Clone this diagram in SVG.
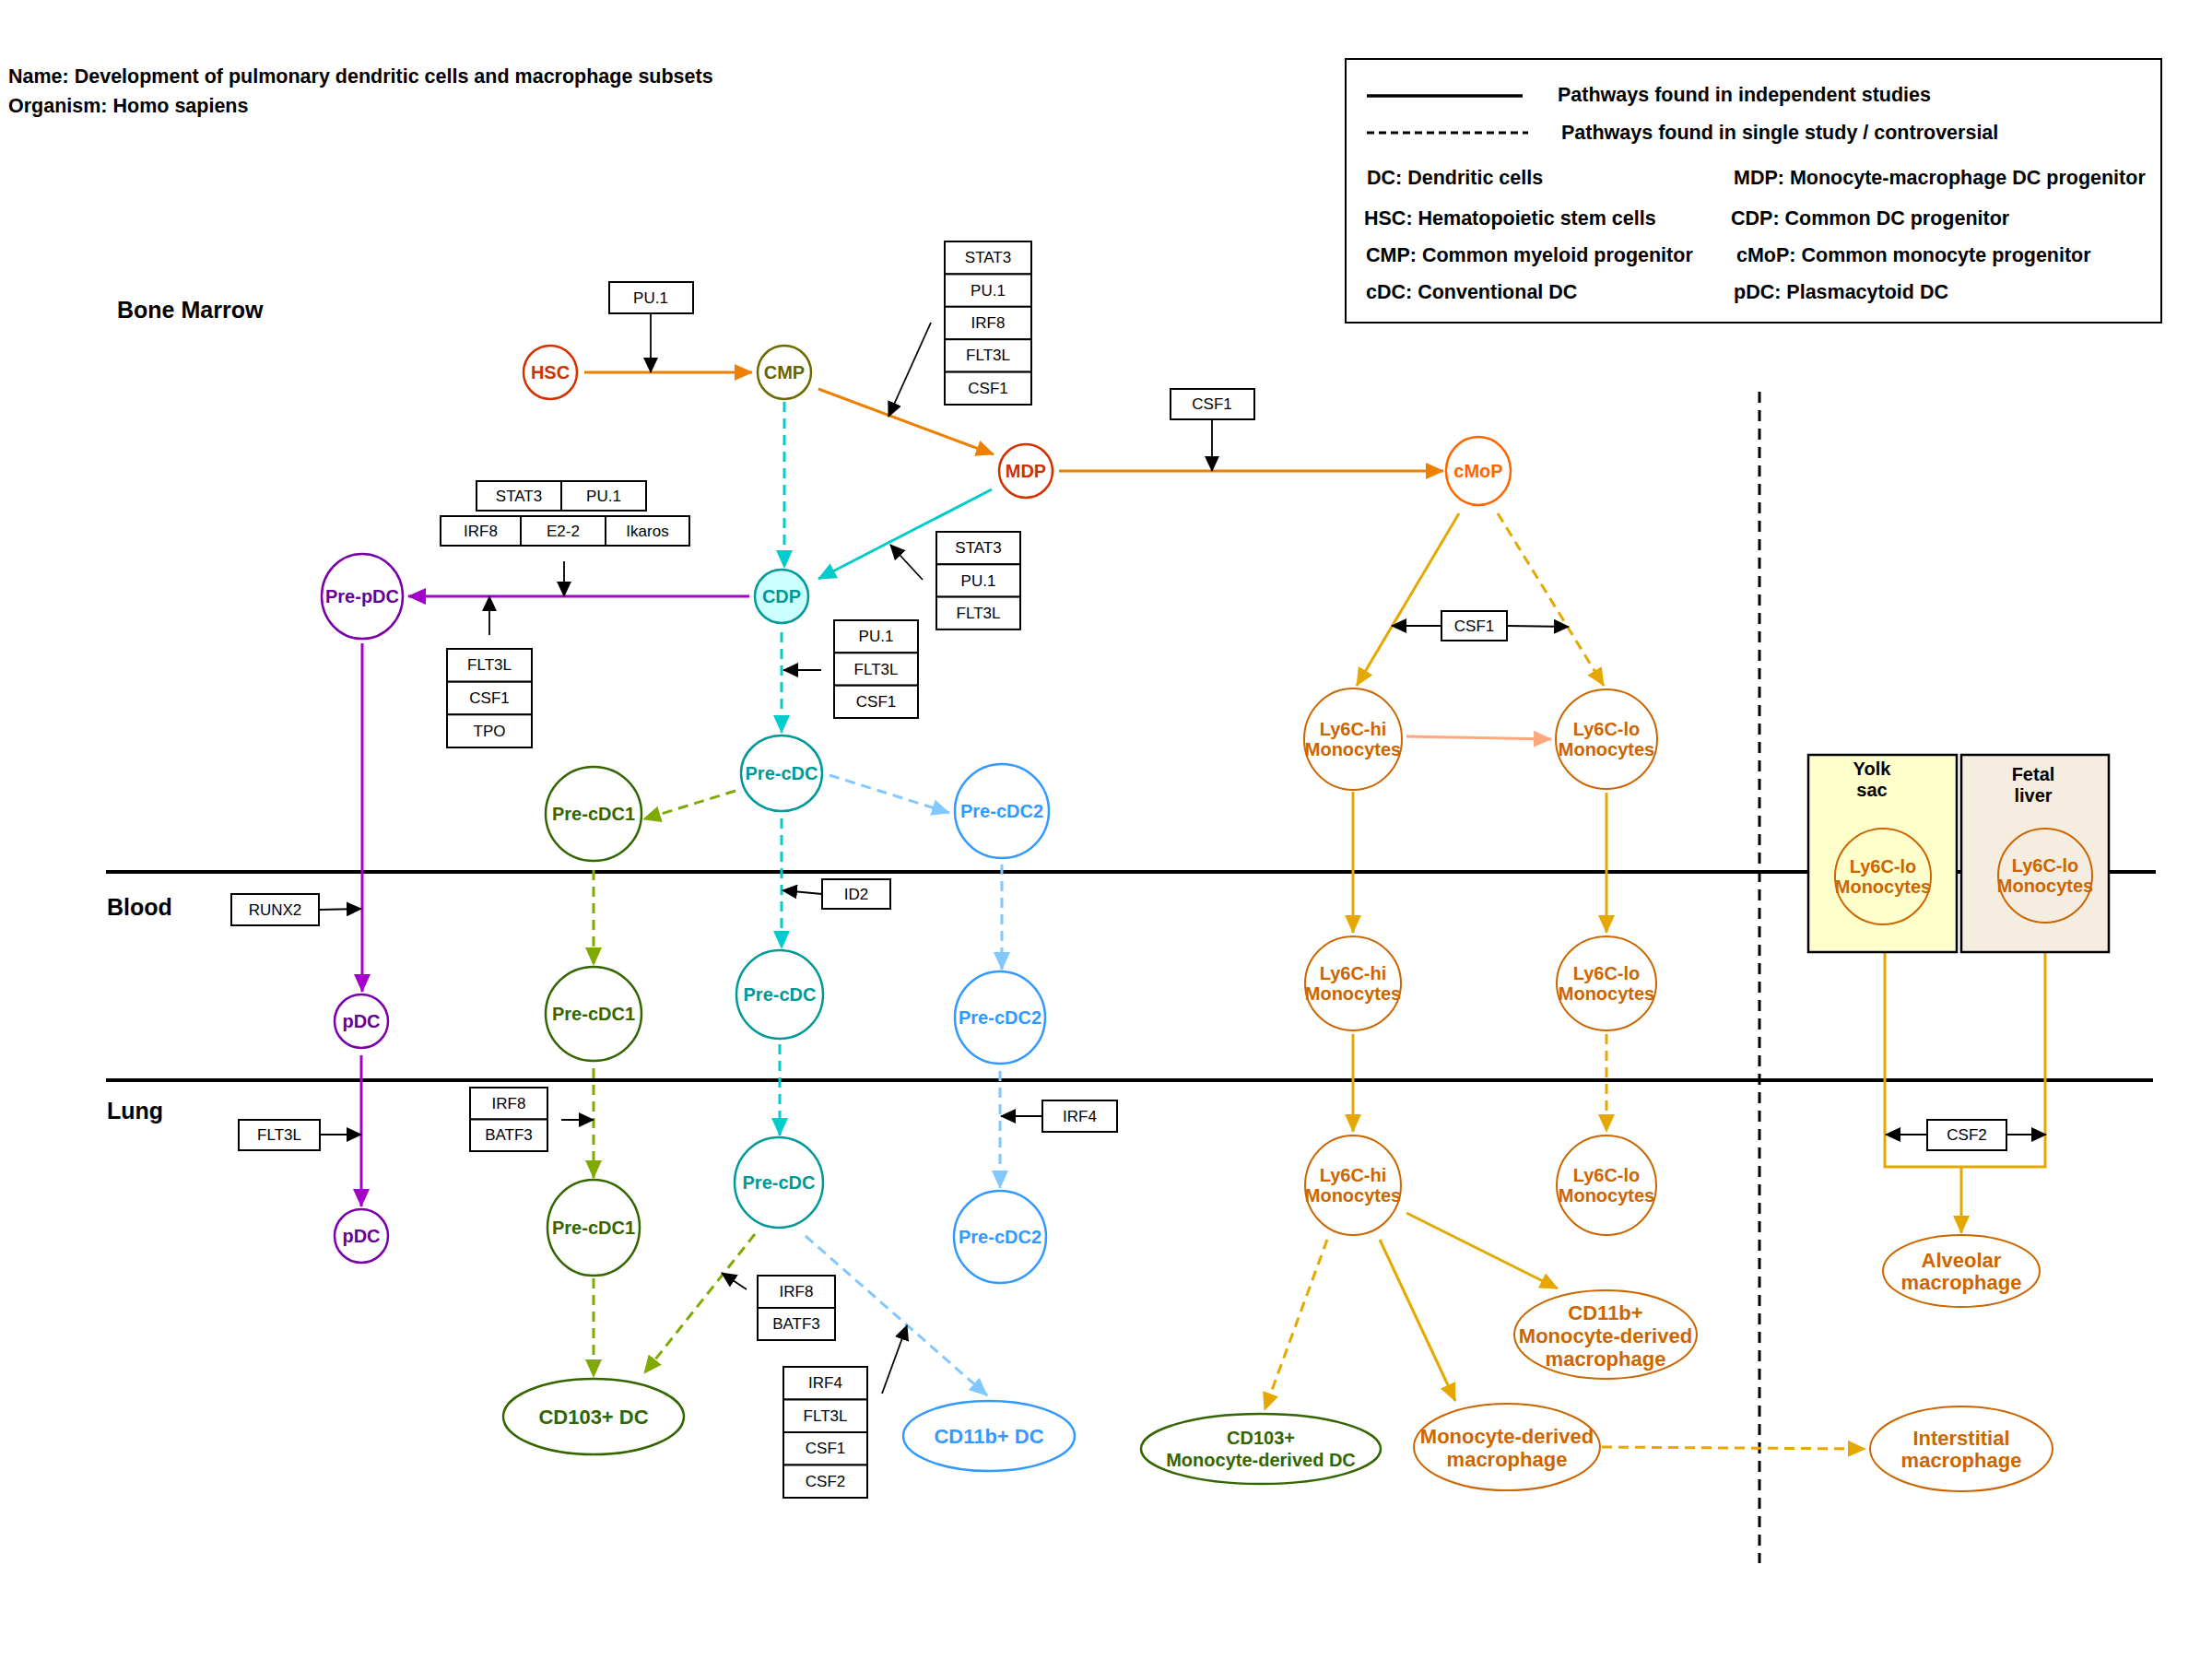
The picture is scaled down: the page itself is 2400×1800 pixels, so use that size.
<svg xmlns="http://www.w3.org/2000/svg" width="2400" height="1800" viewBox="0 0 2400 1800">
  <style>
    text { font-family: "Liberation Sans", Arial, sans-serif; }
    .hdr { font-size: 21.5px; font-weight: bold; fill: #000; }
    .zone { font-size: 25px; font-weight: bold; fill: #000; }
    .leg { font-size: 21.5px; font-weight: bold; fill: #000; }
    .box rect { fill: #fff; stroke: #000; stroke-width: 2; }
    .box text { font-size: 17px; fill: #000; text-anchor: middle; dominant-baseline: central; }
    .node text { font-size: 20px; font-weight: bold; text-anchor: middle; dominant-baseline: central; }
    .node text.big { font-size: 22px; }
    .node ellipse { fill: #fff; stroke-width: 2.5; }
    .red ellipse { stroke: #d43000; } .red text { fill: #cc3300; }
    .olive ellipse { stroke: #6b6b00; } .olive text { fill: #666600; }
    .cyan ellipse { stroke: #009999; fill: #ccffff; } .cyan text { fill: #009999; }
    .teal ellipse { stroke: #009999; } .teal text { fill: #009999; }
    .purple ellipse { stroke: #7a00a8; } .purple text { fill: #660099; }
    .green ellipse { stroke: #336600; } .green text { fill: #336600; }
    .blue ellipse { stroke: #3399ff; } .blue text { fill: #3399ff; }
    .org ellipse { stroke: #ff6600; } .org text { fill: #ff6600; }
    .mono ellipse { stroke: #cc6600; stroke-width: 2; } .mono text { fill: #cc6600; }
    .mono text.site { fill: #000; }
    .c { fill: none; stroke-width: 3; }
    .dash { stroke-dasharray: 11 7; }
    .reg { fill: none; stroke: #000; stroke-width: 1.8; marker-end: url(#ah-black); }
  </style>
  <defs>
    <marker id="ah-orange" markerUnits="userSpaceOnUse" markerWidth="20" markerHeight="18" refX="19" refY="9" orient="auto"><path d="M0,0 L20,9 L0,18 z" fill="#ee8000"/></marker>
    <marker id="ah-cyan" markerUnits="userSpaceOnUse" markerWidth="20" markerHeight="18" refX="19" refY="9" orient="auto"><path d="M0,0 L20,9 L0,18 z" fill="#00cccc"/></marker>
    <marker id="ah-purple" markerUnits="userSpaceOnUse" markerWidth="20" markerHeight="18" refX="19" refY="9" orient="auto"><path d="M0,0 L20,9 L0,18 z" fill="#a400cc"/></marker>
    <marker id="ah-lime" markerUnits="userSpaceOnUse" markerWidth="20" markerHeight="18" refX="19" refY="9" orient="auto"><path d="M0,0 L20,9 L0,18 z" fill="#7faa00"/></marker>
    <marker id="ah-sky" markerUnits="userSpaceOnUse" markerWidth="20" markerHeight="18" refX="19" refY="9" orient="auto"><path d="M0,0 L20,9 L0,18 z" fill="#80c8ff"/></marker>
    <marker id="ah-gold" markerUnits="userSpaceOnUse" markerWidth="20" markerHeight="18" refX="19" refY="9" orient="auto"><path d="M0,0 L20,9 L0,18 z" fill="#e6a800"/></marker>
    <marker id="ah-salmon" markerUnits="userSpaceOnUse" markerWidth="20" markerHeight="18" refX="19" refY="9" orient="auto"><path d="M0,0 L20,9 L0,18 z" fill="#ffa880"/></marker>
    <marker id="ah-black" markerUnits="userSpaceOnUse" markerWidth="17" markerHeight="16" refX="16" refY="8" orient="auto"><path d="M0,0 L17,8 L0,16 z" fill="#000"/></marker>
  </defs>

  <rect x="0" y="0" width="2400" height="1800" fill="#fff"/>

  <!-- heading -->
  <g id="heading">
    <text class="hdr" x="9" y="90">Name: Development of pulmonary dendritic cells and macrophage subsets</text>
    <text class="hdr" x="9" y="122">Organism: Homo sapiens</text>
  </g>

  <!-- legend -->
  <g id="legend">
    <rect x="1460" y="64" width="885" height="286" fill="#fff" stroke="#000" stroke-width="2"/>
    <line x1="1483" y1="104" x2="1652" y2="104" stroke="#000" stroke-width="3.5"/>
    <line x1="1483" y1="144" x2="1658" y2="144" stroke="#000" stroke-width="3" stroke-dasharray="8 5"/>
    <text class="leg" x="1690" y="110">Pathways found in independent studies</text>
    <text class="leg" x="1694" y="151">Pathways found in single study / controversial</text>
    <text class="leg" x="1483" y="200">DC: Dendritic cells</text>
    <text class="leg" x="1881" y="200">MDP: Monocyte-macrophage DC progenitor</text>
    <text class="leg" x="1480" y="244">HSC: Hematopoietic stem cells</text>
    <text class="leg" x="1878" y="244">CDP: Common DC progenitor</text>
    <text class="leg" x="1482" y="284">CMP: Common myeloid progenitor</text>
    <text class="leg" x="1884" y="284">cMoP: Common monocyte progenitor</text>
    <text class="leg" x="1482" y="324">cDC: Conventional DC</text>
    <text class="leg" x="1881" y="324">pDC: Plasmacytoid DC</text>
  </g>

  <!-- compartments -->
  <g id="compartments">
    <text class="zone" x="127" y="345">Bone Marrow</text>
    <text class="zone" x="116" y="993">Blood</text>
    <text class="zone" x="116" y="1214">Lung</text>
    <line x1="115" y1="946" x2="2339" y2="946" stroke="#000" stroke-width="4"/>
    <line x1="115" y1="1172" x2="2336" y2="1172" stroke="#000" stroke-width="4"/>
    <line x1="1909" y1="425" x2="1909" y2="1696" stroke="#000" stroke-width="3" stroke-dasharray="12 8"/>
  </g>

  <!-- connectors -->
  <g id="connectors">
    <!-- progenitor trunk -->
    <line class="c" x1="634" y1="404" x2="816" y2="404" stroke="#ee8000" marker-end="url(#ah-orange)"/>
    <line class="c" x1="888" y1="422" x2="1078" y2="493" stroke="#ee8000" marker-end="url(#ah-orange)"/>
    <line class="c" x1="1149" y1="511" x2="1566" y2="511" stroke="#ee8000" marker-end="url(#ah-orange)"/>
    <line class="c dash" x1="851" y1="436" x2="851" y2="616" stroke="#00cccc" marker-end="url(#ah-cyan)"/>
    <line class="c" x1="1076" y1="531" x2="888" y2="628" stroke="#00cccc" marker-end="url(#ah-cyan)"/>
    <line class="c" x1="813" y1="647" x2="443" y2="647" stroke="#a400cc" stroke-width="3.5" marker-end="url(#ah-purple)"/>
    <line class="c dash" x1="848" y1="686" x2="848" y2="795" stroke="#00cccc" marker-end="url(#ah-cyan)"/>

    <!-- pDC branch -->
    <line class="c" x1="393" y1="698" x2="393" y2="1076" stroke="#a400cc" stroke-width="3.5" marker-end="url(#ah-purple)"/>
    <line class="c" x1="392" y1="1145" x2="392" y2="1309" stroke="#a400cc" stroke-width="3.5" marker-end="url(#ah-purple)"/>

    <!-- cDC branches -->
    <line class="c dash" x1="798" y1="858" x2="698" y2="889" stroke="#7faa00" marker-end="url(#ah-lime)"/>
    <line class="c dash" x1="900" y1="841" x2="1030" y2="882" stroke="#80c8ff" marker-end="url(#ah-sky)"/>
    <line class="c dash" x1="848" y1="888" x2="848" y2="1029" stroke="#00cccc" marker-end="url(#ah-cyan)"/>
    <line class="c dash" x1="644" y1="944" x2="644" y2="1047" stroke="#7faa00" marker-end="url(#ah-lime)"/>
    <line class="c dash" x1="1087" y1="938" x2="1087" y2="1052" stroke="#80c8ff" marker-end="url(#ah-sky)"/>
    <line class="c dash" x1="644" y1="1159" x2="644" y2="1278" stroke="#7faa00" marker-end="url(#ah-lime)"/>
    <line class="c dash" x1="846" y1="1133" x2="846" y2="1232" stroke="#00cccc" marker-end="url(#ah-cyan)"/>
    <line class="c dash" x1="1085" y1="1162" x2="1085" y2="1289" stroke="#80c8ff" marker-end="url(#ah-sky)"/>
    <line class="c dash" x1="644" y1="1387" x2="644" y2="1494" stroke="#7faa00" marker-end="url(#ah-lime)"/>
    <line class="c dash" x1="819" y1="1339" x2="699" y2="1490" stroke="#7faa00" marker-end="url(#ah-lime)"/>
    <line class="c dash" x1="874" y1="1341" x2="1071" y2="1514" stroke="#80c8ff" marker-end="url(#ah-sky)"/>

    <!-- monocyte branches -->
    <line class="c" x1="1583" y1="557" x2="1472" y2="744" stroke="#e6a800" marker-end="url(#ah-gold)"/>
    <line class="c dash" x1="1625" y1="557" x2="1740" y2="744" stroke="#e6a800" marker-end="url(#ah-gold)"/>
    <line class="c" x1="1526" y1="799" x2="1683" y2="802" stroke="#ffa880" marker-end="url(#ah-salmon)"/>
    <line class="c" x1="1468" y1="859" x2="1468" y2="1012" stroke="#e6a800" marker-end="url(#ah-gold)"/>
    <line class="c" x1="1743" y1="860" x2="1743" y2="1012" stroke="#e6a800" marker-end="url(#ah-gold)"/>
    <line class="c" x1="1468" y1="1122" x2="1468" y2="1228" stroke="#e6a800" marker-end="url(#ah-gold)"/>
    <line class="c dash" x1="1743" y1="1122" x2="1743" y2="1228" stroke="#e6a800" marker-end="url(#ah-gold)"/>
    <line class="c" x1="1526" y1="1316" x2="1690" y2="1398" stroke="#e6a800" marker-end="url(#ah-gold)"/>
    <line class="c" x1="1497" y1="1345" x2="1579" y2="1520" stroke="#e6a800" marker-end="url(#ah-gold)"/>
    <line class="c dash" x1="1440" y1="1345" x2="1372" y2="1530" stroke="#e6a800" marker-end="url(#ah-gold)"/>
    <line class="c dash" x1="1738" y1="1570" x2="2024" y2="1572" stroke="#e6a800" marker-end="url(#ah-gold)"/>

    <!-- embryonic macrophage origin -->
    <path class="c" d="M2045,1005 V1266 H2219 V1003" stroke="#e6a800"/>
    <line class="c" x1="2128" y1="1266" x2="2128" y2="1338" stroke="#e6a800" marker-end="url(#ah-gold)"/>

    <!-- regulator arrows -->
    <line class="reg" x1="706" y1="340" x2="706" y2="404"/>
    <line class="reg" x1="1010" y1="350" x2="964" y2="452"/>
    <line class="reg" x1="1315" y1="455" x2="1315" y2="511"/>
    <line class="reg" x1="1001" y1="629" x2="966" y2="591"/>
    <line class="reg" x1="612" y1="609" x2="612" y2="647"/>
    <line class="reg" x1="531" y1="689" x2="531" y2="647"/>
    <line class="reg" x1="891" y1="727" x2="850" y2="727"/>
    <line class="reg" x1="892" y1="970" x2="849" y2="966"/>
    <line class="reg" x1="346" y1="987" x2="392" y2="986"/>
    <line class="reg" x1="347" y1="1231" x2="392" y2="1231"/>
    <line class="reg" x1="609" y1="1215" x2="644" y2="1215"/>
    <line class="reg" x1="1131" y1="1211" x2="1086" y2="1211"/>
    <line class="reg" x1="810" y1="1399" x2="783" y2="1381"/>
    <line class="reg" x1="957" y1="1512" x2="984" y2="1438"/>
    <line class="reg" x1="1564" y1="679" x2="1510" y2="679"/>
    <line class="reg" x1="1635" y1="679" x2="1702" y2="680"/>
    <line class="reg" x1="2091" y1="1231" x2="2046" y2="1231"/>
    <line class="reg" x1="2177" y1="1231" x2="2220" y2="1231"/>
  </g>

  <!-- regulator boxes -->
  <g id="reg-pu1-hsc" class="box">
    <rect x="661" y="306" width="91" height="34"/><text x="706" y="323">PU.1</text>
  </g>
  <g id="reg-cmp-mdp" class="box">
    <rect x="1025" y="262" width="94" height="35.4"/><text x="1072" y="279.7">STAT3</text>
    <rect x="1025" y="297.4" width="94" height="35.4"/><text x="1072" y="315.1">PU.1</text>
    <rect x="1025" y="332.8" width="94" height="35.4"/><text x="1072" y="350.5">IRF8</text>
    <rect x="1025" y="368.2" width="94" height="35.4"/><text x="1072" y="385.9">FLT3L</text>
    <rect x="1025" y="403.6" width="94" height="35.4"/><text x="1072" y="421.3">CSF1</text>
  </g>
  <g id="reg-csf1-cmop" class="box">
    <rect x="1270" y="422" width="91" height="33"/><text x="1315" y="438.5">CSF1</text>
  </g>
  <g id="reg-mdp-cdp" class="box">
    <rect x="1016" y="577" width="91" height="35.3"/><text x="1061.5" y="594.7">STAT3</text>
    <rect x="1016" y="612.3" width="91" height="35.3"/><text x="1061.5" y="630">PU.1</text>
    <rect x="1016" y="647.6" width="91" height="35.3"/><text x="1061.5" y="665.3">FLT3L</text>
  </g>
  <g id="reg-prepdc-tf" class="box">
    <rect x="517" y="522" width="92" height="32"/><text x="563" y="538">STAT3</text>
    <rect x="609" y="522" width="92" height="32"/><text x="655" y="538">PU.1</text>
    <rect x="478" y="560" width="87" height="32"/><text x="521.5" y="576">IRF8</text>
    <rect x="565" y="560" width="92" height="32"/><text x="611" y="576">E2-2</text>
    <rect x="657" y="560" width="91" height="32"/><text x="702.5" y="576">Ikaros</text>
  </g>
  <g id="reg-prepdc-cyt" class="box">
    <rect x="485" y="704" width="92" height="35.7"/><text x="531" y="721.8">FLT3L</text>
    <rect x="485" y="739.7" width="92" height="35.7"/><text x="531" y="757.5">CSF1</text>
    <rect x="485" y="775.3" width="92" height="35.7"/><text x="531" y="793.2">TPO</text>
  </g>
  <g id="reg-cdp-precdc" class="box">
    <rect x="905" y="673" width="91" height="35.3"/><text x="950.5" y="690.7">PU.1</text>
    <rect x="905" y="708.3" width="91" height="35.3"/><text x="950.5" y="726">FLT3L</text>
    <rect x="905" y="743.7" width="91" height="35.3"/><text x="950.5" y="761.3">CSF1</text>
  </g>
  <g id="reg-id2" class="box">
    <rect x="892" y="954" width="74" height="32"/><text x="929" y="970">ID2</text>
  </g>
  <g id="reg-runx2" class="box">
    <rect x="251" y="970" width="95" height="34"/><text x="298.5" y="987">RUNX2</text>
  </g>
  <g id="reg-flt3l-pdc" class="box">
    <rect x="259" y="1215" width="88" height="33"/><text x="303" y="1231.5">FLT3L</text>
  </g>
  <g id="reg-irf8-batf3-a" class="box">
    <rect x="510" y="1180" width="84" height="34.5"/><text x="552" y="1197.3">IRF8</text>
    <rect x="510" y="1214.5" width="84" height="34.5"/><text x="552" y="1231.8">BATF3</text>
  </g>
  <g id="reg-irf4" class="box">
    <rect x="1131" y="1194" width="81" height="34"/><text x="1171.5" y="1211">IRF4</text>
  </g>
  <g id="reg-irf8-batf3-b" class="box">
    <rect x="822" y="1384" width="84" height="35"/><text x="864" y="1401.5">IRF8</text>
    <rect x="822" y="1419" width="84" height="35"/><text x="864" y="1436.5">BATF3</text>
  </g>
  <g id="reg-cd11b-dc" class="box">
    <rect x="850" y="1483" width="91" height="35.5"/><text x="895.5" y="1500.8">IRF4</text>
    <rect x="850" y="1518.5" width="91" height="35.5"/><text x="895.5" y="1536.3">FLT3L</text>
    <rect x="850" y="1554" width="91" height="35.5"/><text x="895.5" y="1571.8">CSF1</text>
    <rect x="850" y="1589.5" width="91" height="35.5"/><text x="895.5" y="1607.3">CSF2</text>
  </g>
  <g id="reg-csf1-mono" class="box">
    <rect x="1564" y="663" width="71" height="32"/><text x="1599.5" y="679">CSF1</text>
  </g>
  <g id="reg-csf2" class="box">
    <rect x="2091" y="1215" width="86" height="33"/><text x="2134" y="1231.5">CSF2</text>
  </g>

  <!-- progenitors -->
  <g id="hsc" class="node red"><ellipse cx="597" cy="404" rx="29" ry="29"/><text x="597" y="404">HSC</text></g>
  <g id="cmp" class="node olive"><ellipse cx="851" cy="404" rx="29" ry="29"/><text x="851" y="404">CMP</text></g>
  <g id="mdp" class="node red"><ellipse cx="1113" cy="511" rx="29" ry="29"/><text x="1113" y="511">MDP</text></g>
  <g id="cdp" class="node cyan"><ellipse cx="848" cy="647" rx="29" ry="29"/><text x="848" y="647">CDP</text></g>
  <g id="cmop" class="node org"><ellipse cx="1604" cy="511" rx="35" ry="37"/><text x="1604" y="511">cMoP</text></g>

  <!-- plasmacytoid DC lineage -->
  <g id="pre-pdc" class="node purple"><ellipse cx="393" cy="647" rx="44" ry="46"/><text x="393" y="647">Pre-pDC</text></g>
  <g id="pdc-blood" class="node purple"><ellipse cx="392" cy="1108" rx="29" ry="29"/><text x="392" y="1108">pDC</text></g>
  <g id="pdc-lung" class="node purple"><ellipse cx="392" cy="1341" rx="29" ry="29"/><text x="392" y="1341">pDC</text></g>

  <!-- conventional DC lineage -->
  <g id="pre-cdc-bm" class="node teal"><ellipse cx="848" cy="839" rx="44" ry="41"/><text x="848" y="839">Pre-cDC</text></g>
  <g id="pre-cdc1-bm" class="node green"><ellipse cx="644" cy="883" rx="52" ry="51"/><text x="644" y="883">Pre-cDC1</text></g>
  <g id="pre-cdc2-bm" class="node blue"><ellipse cx="1087" cy="880" rx="51" ry="51"/><text x="1087" y="880">Pre-cDC2</text></g>
  <g id="pre-cdc1-blood" class="node green"><ellipse cx="644" cy="1100" rx="52" ry="51"/><text x="644" y="1100">Pre-cDC1</text></g>
  <g id="pre-cdc-blood" class="node teal"><ellipse cx="846" cy="1079" rx="47" ry="48"/><text x="846" y="1079">Pre-cDC</text></g>
  <g id="pre-cdc2-blood" class="node blue"><ellipse cx="1085" cy="1104" rx="49" ry="50"/><text x="1085" y="1104">Pre-cDC2</text></g>
  <g id="pre-cdc1-lung" class="node green"><ellipse cx="644" cy="1332" rx="50" ry="52"/><text x="644" y="1332">Pre-cDC1</text></g>
  <g id="pre-cdc-lung" class="node teal"><ellipse cx="845" cy="1283" rx="48" ry="49"/><text x="845" y="1283">Pre-cDC</text></g>
  <g id="pre-cdc2-lung" class="node blue"><ellipse cx="1085" cy="1342" rx="50" ry="50"/><text x="1085" y="1342">Pre-cDC2</text></g>
  <g id="cd103-dc" class="node green"><ellipse cx="644" cy="1537" rx="98" ry="41"/><text class="big" x="644" y="1537">CD103+ DC</text></g>
  <g id="cd11b-dc" class="node blue"><ellipse cx="1073" cy="1558" rx="93" ry="38"/><text class="big" x="1073" y="1558">CD11b+ DC</text></g>

  <!-- monocyte lineage -->
  <g id="ly6c-hi-bm" class="node mono"><ellipse cx="1468" cy="802" rx="53" ry="55"/><text x="1468" y="791">Ly6C-hi</text><text x="1468" y="813">Monocytes</text></g>
  <g id="ly6c-lo-bm" class="node mono"><ellipse cx="1743" cy="802" rx="55" ry="54"/><text x="1743" y="791">Ly6C-lo</text><text x="1743" y="813">Monocytes</text></g>
  <g id="ly6c-hi-blood" class="node mono"><ellipse cx="1468" cy="1067" rx="52" ry="51"/><text x="1468" y="1056">Ly6C-hi</text><text x="1468" y="1078">Monocytes</text></g>
  <g id="ly6c-lo-blood" class="node mono"><ellipse cx="1743" cy="1067" rx="54" ry="51"/><text x="1743" y="1056">Ly6C-lo</text><text x="1743" y="1078">Monocytes</text></g>
  <g id="ly6c-hi-lung" class="node mono"><ellipse cx="1468" cy="1286" rx="52" ry="54"/><text x="1468" y="1275">Ly6C-hi</text><text x="1468" y="1297">Monocytes</text></g>
  <g id="ly6c-lo-lung" class="node mono"><ellipse cx="1743" cy="1286" rx="54" ry="54"/><text x="1743" y="1275">Ly6C-lo</text><text x="1743" y="1297">Monocytes</text></g>
  <g id="cd11b-mdm" class="node mono"><ellipse cx="1742" cy="1448" rx="99" ry="48"/><text class="big" x="1742" y="1424">CD11b+</text><text class="big" x="1742" y="1449">Monocyte-derived</text><text class="big" x="1742" y="1474">macrophage</text></g>
  <g id="mdm" class="node mono"><ellipse cx="1635" cy="1570" rx="101" ry="47"/><text class="big" x="1635" y="1558">Monocyte-derived</text><text class="big" x="1635" y="1583">macrophage</text></g>
  <g id="cd103-mdc" class="node green"><ellipse cx="1368" cy="1572" rx="130" ry="38" stroke-width="3"/><text x="1368" y="1560" font-size="21">CD103+</text><text x="1368" y="1584" font-size="21">Monocyte-derived DC</text></g>

  <!-- embryonic origins -->
  <g id="yolk-sac" class="node mono">
    <rect x="1962" y="819" width="161" height="214" fill="#ffffcc" stroke="#000" stroke-width="2.5"/>
    <text class="site" x="2031" y="834">Yolk</text>
    <text class="site" x="2031" y="857">sac</text>
    <ellipse cx="2043" cy="951" rx="52" ry="52" style="fill:#ffffcc"/>
    <text x="2043" y="940">Ly6C-lo</text><text x="2043" y="962">Monocytes</text>
  </g>
  <g id="fetal-liver" class="node mono">
    <rect x="2128" y="819" width="160" height="214" fill="#f5eddf" stroke="#000" stroke-width="2.5"/>
    <text class="site" x="2206" y="840">Fetal</text>
    <text class="site" x="2206" y="863">liver</text>
    <ellipse cx="2219" cy="950" rx="51" ry="51" style="fill:#f5eddf"/>
    <text x="2219" y="939">Ly6C-lo</text><text x="2219" y="961">Monocytes</text>
  </g>
  <g id="alveolar-mac" class="node mono"><ellipse cx="2128" cy="1379" rx="85" ry="39"/><text class="big" x="2128" y="1367">Alveolar</text><text class="big" x="2128" y="1391">macrophage</text></g>
  <g id="interstitial-mac" class="node mono"><ellipse cx="2128" cy="1572" rx="99" ry="46"/><text class="big" x="2128" y="1560">Interstitial</text><text class="big" x="2128" y="1584">macrophage</text></g>
</svg>
